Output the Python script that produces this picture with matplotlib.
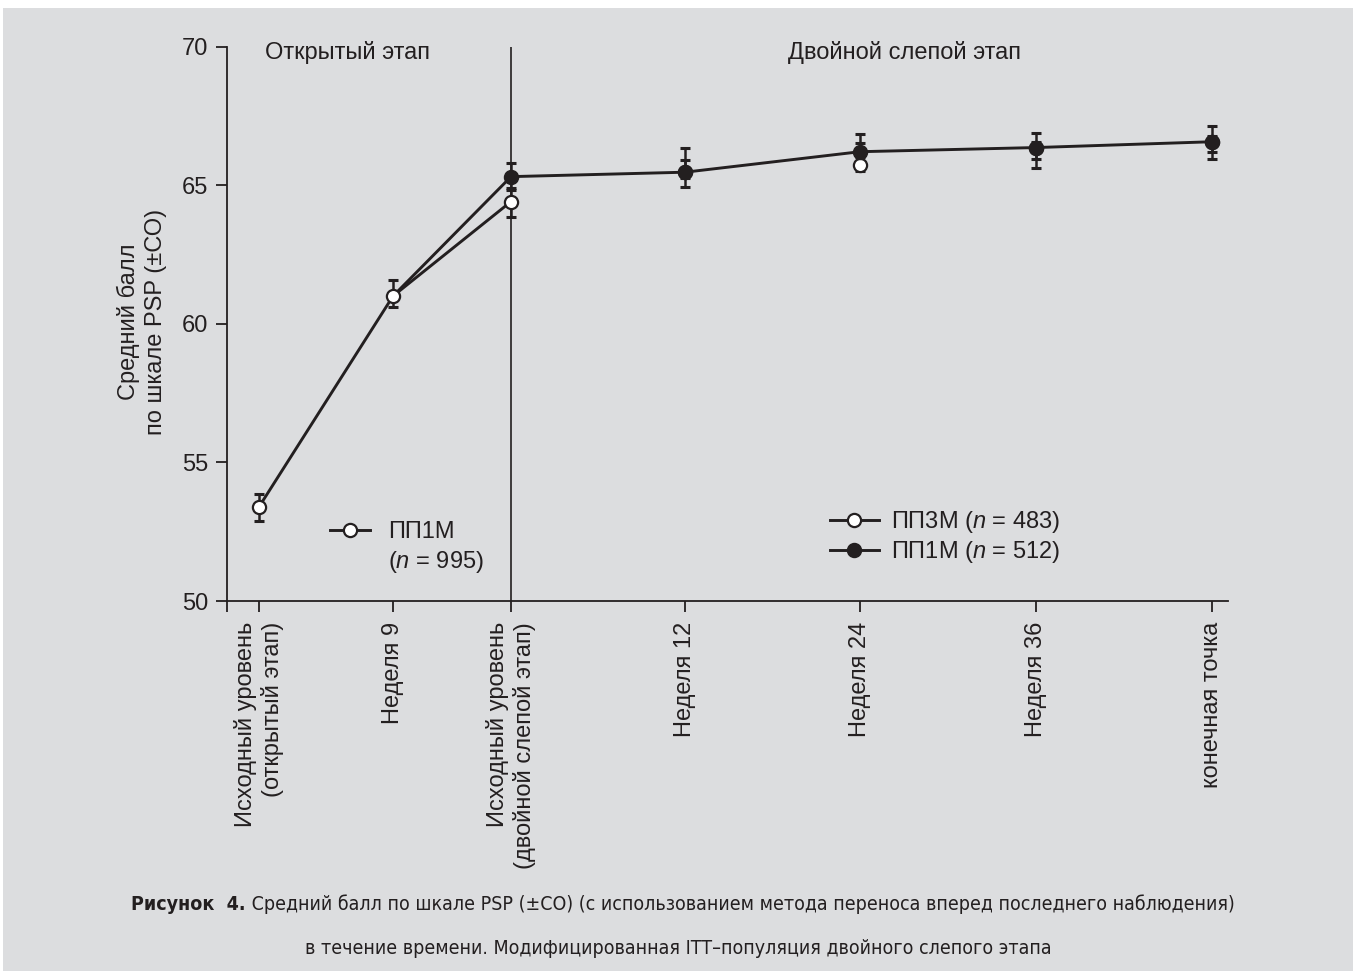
import matplotlib
matplotlib.use('Agg')
import matplotlib.pyplot as plt
from matplotlib import font_manager
from matplotlib.lines import Line2D
from matplotlib.patches import Rectangle

plt.rcParams['font.family'] = ['Liberation Sans', 'DejaVu Sans']
plt.rcParams['mathtext.fontset'] = 'custom'
plt.rcParams['mathtext.rm'] = 'Liberation Sans'
plt.rcParams['mathtext.it'] = 'Liberation Sans:italic'

# --- data ---
x_labels = ['Исходный уровень\n(открытый этап)', 'Неделя 9',
            'Исходный уровень\n(двойной слепой этап)', 'Неделя 12',
            'Неделя 24', 'Неделя 36', 'конечная точка']

# open phase, ПП1М n = 995
open_mean = [53.40, 61.01]
open_err_lo = [0.51, 0.38]
open_err_hi = [0.46, 0.58]

# double-blind phase: DB baseline, week 12, 24, 36, endpoint
db_3m_mean = [64.42, 65.48, 65.74, 66.37, 66.58]
db_3m_err_lo = [0.55, 0.20, 0.20, 0.75, 0.62]
db_3m_err_hi = [0.49, 0.44, 0.78, 0.20, 0.20]

db_1m_mean = [65.32, 65.48, 66.22, 66.37, 66.58]
db_1m_err_lo = [0.48, 0.55, 0.20, 0.41, 0.36]
db_1m_err_hi = [0.49, 0.86, 0.63, 0.54, 0.58]

legend_open = 'ПП1М'
legend_open_n = '($n$ = 995)'
legend_db = ['ПП3М ($n$ = 483)', 'ПП1М ($n$ = 512)']
phase_labels = ['Открытый этап', 'Двойной слепой этап']
y_label = 'Средний балл\nпо шкале PSP (±СО)'
cap_bold = 'Рисунок  4.'
cap_line1 = ' Средний балл по шкале PSP (±СО) (с использованием метода переноса вперед последнего наблюдения)'
cap_line2 = 'в течение времени. Модифицированная ITT–популяция двойного слепого этапа'

# layout
x_pos = [0, 0.766, 1.44, 2.434, 3.434, 4.44, 5.446]
x_lim = (-0.183, 5.537)
bg = '#dcdddf'
ink = '#231f20'
fs = 17

fig = plt.figure(figsize=(13.53, 9.71), dpi=100)
fig.patch.set_facecolor('white')
fig.patches.append(Rectangle((3 / 1353, 0), 1, 1 - 8 / 971, transform=fig.transFigure,
                             facecolor=bg, edgecolor='none', zorder=-10))

ax = fig.add_axes([227 / 1353, 1 - 601 / 971, 1001 / 1353, 554 / 971])
ax.set_facecolor('none')

open_x = x_pos[:2]
db_x = x_pos[2:]
mk = dict(marker='o', ms=9.5, mew=1.6, mec=ink)

ax.axvline(x_pos[2], color=ink, lw=1.2, zorder=1)

# open phase line and the two branches into the double-blind baseline
ax.plot(open_x, open_mean, color=ink, lw=2.1, zorder=2)
ax.plot([open_x[1], db_x[0]], [open_mean[1], db_3m_mean[0]], color=ink, lw=2.1, zorder=2)
ax.plot([open_x[1], db_x[0]], [open_mean[1], db_1m_mean[0]], color=ink, lw=2.1, zorder=2)

eb = dict(fmt='none', ecolor=ink, elinewidth=1.8, capsize=3.6, capthick=2.2)
ax.errorbar(db_x, db_1m_mean, yerr=[db_1m_err_lo, db_1m_err_hi], zorder=3, **eb)
ax.errorbar(db_x, db_3m_mean, yerr=[db_3m_err_lo, db_3m_err_hi], zorder=4, **eb)
ax.errorbar(open_x, open_mean, yerr=[open_err_lo, open_err_hi], zorder=4, **eb)

ax.plot(db_x, db_3m_mean, ls='none', mfc='white', zorder=5, **mk)
ax.plot(open_x, open_mean, ls='none', mfc='white', zorder=5, **mk)
ax.plot(db_x, db_1m_mean, color=ink, lw=2.1, mfc=ink, zorder=6, **mk)

ax.set_xlim(*x_lim)
ax.set_ylim(50, 70)
ax.set_yticks([50, 55, 60, 65, 70])
ax.set_xticks([x_lim[0]] + x_pos)
ax.set_xticklabels([''] + x_labels, rotation=90, ha='center', va='top', ma='right')

for s in ['top', 'right']:
    ax.spines[s].set_visible(False)
for s in ['left', 'bottom']:
    ax.spines[s].set_linewidth(1.3)
    ax.spines[s].set_color(ink)
ax.tick_params(axis='both', direction='out', length=8, width=1.3, color=ink,
               labelsize=fs, labelcolor=ink)
ax.tick_params(axis='x', pad=7)
ax.tick_params(axis='y', pad=5.5)

fig.text(142 / 1353, 1 - 322 / 971, y_label, rotation=90, ha='center', va='center',
         fontsize=fs, color=ink, linespacing=1.3)

ax.text(0.038, (601 - 59) / 554, phase_labels[0], transform=ax.transAxes,
        ha='left', va='baseline', fontsize=fs, color=ink)
ax.text(0.677, (601 - 59) / 554, phase_labels[1], transform=ax.transAxes,
        ha='center', va='baseline', fontsize=fs, color=ink)

# legends
h_open = Line2D([], [], color=ink, lw=2.1, mfc='white', **mk)
h_3m = Line2D([], [], color=ink, lw=2.1, mfc='white', **mk)
h_1m = Line2D([], [], color=ink, lw=2.1, mfc=ink, **mk)
leg1 = ax.legend([h_open], [legend_open], loc='center left',
                 bbox_to_anchor=((330 - 227) / 1001, (601 - 532) / 554),
                 frameon=False, handlelength=1.69, handletextpad=0.76,
                 borderpad=0, borderaxespad=0, fontsize=fs, labelcolor=ink)
ax.add_artist(leg1)
ax.text((388 - 227) / 1001, (601 - 562) / 554, legend_open_n, transform=ax.transAxes,
        ha='left', va='center', fontsize=fs, color=ink)
ax.legend([h_3m, h_1m], legend_db, loc='center left',
          bbox_to_anchor=((830 - 227) / 1001, (601 - 537) / 554),
          frameon=False, handlelength=2.07, handletextpad=0.51, labelspacing=0.15,
          borderpad=0, borderaxespad=0, fontsize=fs, labelcolor=ink)

# caption
names = {f.name for f in font_manager.fontManager.ttflist}
if 'Liberation Sans Narrow' in names:
    cap_font = dict(family=['Liberation Sans Narrow', 'DejaVu Sans'])
else:
    cap_font = dict(family=['DejaVu Sans'], stretch='condensed')

renderer = fig.canvas.get_renderer()
cap_fs = 15
tb = fig.text(0, 0, cap_bold, fontsize=cap_fs, fontweight='bold', color=ink, **cap_font)
t1 = fig.text(0, 0, cap_line1, fontsize=cap_fs, color=ink, **cap_font)
w = tb.get_window_extent(renderer).width + t1.get_window_extent(renderer).width
cap_fs = cap_fs * 1100 / w
tb.set_fontsize(cap_fs)
t1.set_fontsize(cap_fs)
wb = tb.get_window_extent(renderer).width
w1 = t1.get_window_extent(renderer).width
x0 = 683 - (wb + w1) / 2
tb.set_position((x0 / 1353, 1 - 910 / 971))
t1.set_position(((x0 + wb) / 1353, 1 - 910 / 971))
tb.set_va('baseline')
t1.set_va('baseline')
fig.text(678 / 1353, 1 - 954 / 971, cap_line2, fontsize=cap_fs, color=ink,
         ha='center', va='baseline', **cap_font)

fig.savefig('out.png', dpi=100, facecolor=fig.get_facecolor())
